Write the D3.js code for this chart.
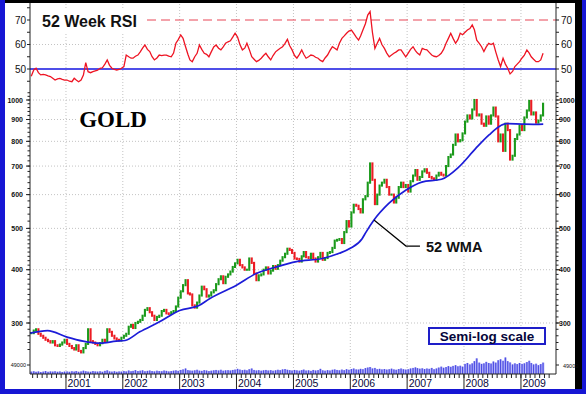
<!DOCTYPE html>
<html>
<head>
<meta charset="utf-8">
<script src="https://cdnjs.cloudflare.com/ajax/libs/d3/7.8.5/d3.min.js"></script>
<style>
  body { margin: 0; background: #fff; }
  svg { display: block; font-family: 'Liberation Sans', Arial, sans-serif; }
</style>
</head>
<body>
<div id="goldChart"></div>
<script>
// gold closes, read twice a month (first half / second half of each month)
// 2000 starts with the second half of May
var close2000 = [284, 288, 290, 283, 280, 277, 274, 272, 270, 272, 266, 265, 267, 270, 274]
var close2001 = [268, 265, 262, 260, 266, 258, 256, 262, 268, 290, 272, 270, 268, 266, 269, 274, 272, 290, 286, 280, 276, 274, 273, 277]
var close2002 = [280, 283, 294, 297, 292, 300, 302, 305, 312, 322, 325, 318, 312, 305, 310, 312, 320, 322, 316, 315, 318, 320, 328, 344]
var close2003 = [356, 368, 378, 352, 350, 330, 326, 335, 348, 365, 360, 346, 348, 354, 358, 370, 380, 386, 372, 385, 390, 396, 406, 414]
var close2004 = [422, 410, 405, 400, 400, 425, 415, 392, 378, 388, 390, 400, 405, 392, 398, 408, 402, 410, 420, 428, 436, 448, 445, 438]
var close2005 = [425, 424, 418, 430, 440, 428, 426, 436, 425, 418, 428, 438, 422, 426, 438, 440, 450, 468, 470, 472, 462, 490, 520, 505]
var close2006 = [545, 568, 565, 555, 545, 585, 595, 640, 710, 650, 570, 600, 630, 640, 650, 625, 600, 600, 575, 590, 625, 640, 625, 632]
var close2007 = [610, 645, 665, 685, 650, 660, 680, 688, 675, 660, 655, 650, 665, 675, 668, 665, 700, 735, 745, 785, 830, 800, 805, 835]
var close2008 = [890, 920, 905, 950, 1000, 920, 925, 880, 870, 915, 880, 920, 960, 915, 800, 830, 760, 880, 850, 725, 740, 810, 830, 870]
var close2009 = [850, 910, 945, 995, 925, 935, 885, 895, 920, 980]

// 52 week RSI, same dates
var rsi2000 = [47.0, 49.6, 50.3, 48.5, 47.6, 47.8, 47.6, 47.2, 46.9, 46.2, 45.5, 46.0, 46.2, 45.8, 45.5]
var rsi2001 = [45.5, 45.0, 44.8, 46.2, 45.5, 44.8, 45.5, 47.5, 52.6, 48.9, 48.5, 48.9, 49.2, 49.5, 50.3, 50.5, 52.0, 53.7, 51.5, 50.3, 49.8, 49.6, 49.8, 50.3]
var rsi2002 = [51.0, 55.7, 55.0, 54.4, 54.4, 55.2, 55.7, 57.0, 58.5, 59.8, 58.0, 57.1, 55.0, 53.7, 54.5, 55.7, 55.5, 55.7, 55.7, 55.3, 55.0, 56.5, 60.5, 62.0]
var rsi2003 = [63.9, 62.5, 59.1, 56.0, 53.7, 53.0, 55.0, 56.4, 59.8, 58.0, 56.4, 56.0, 55.0, 57.0, 59.0, 59.8, 58.5, 57.8, 59.0, 60.5, 61.1, 61.5, 63.0, 64.6]
var rsi2004 = [63.0, 60.0, 57.8, 58.5, 60.5, 58.0, 55.0, 54.0, 53.0, 53.5, 54.4, 55.5, 56.4, 55.0, 53.7, 55.5, 57.0, 57.8, 58.5, 59.1, 60.5, 62.1, 59.5, 57.8]
var rsi2005 = [55.5, 54.4, 56.0, 57.8, 56.0, 54.4, 55.0, 55.7, 55.5, 54.8, 54.4, 53.5, 53.0, 54.5, 55.7, 57.5, 59.1, 58.5, 57.8, 60.5, 62.5, 63.5, 64.6, 65.5]
var rsi2006 = [65.9, 64.5, 63.0, 61.8, 63.5, 65.9, 68.5, 72.0, 73.4, 65.0, 58.4, 60.5, 62.5, 60.0, 58.4, 56.5, 55.0, 55.7, 56.4, 57.0, 57.8, 57.8, 56.4, 55.0]
var rsi2007 = [56.5, 58.0, 59.1, 57.5, 56.5, 55.7, 58.4, 58.0, 57.8, 56.8, 55.7, 55.2, 55.0, 55.5, 56.4, 58.0, 60.5, 62.5, 64.6, 62.5, 60.5, 62.0, 64.6, 64.0]
var rsi2008 = [65.0, 65.9, 66.5, 68.0, 66.0, 61.8, 60.5, 59.1, 57.1, 59.0, 60.5, 60.0, 60.5, 57.0, 53.7, 51.0, 54.4, 52.0, 50.3, 48.0, 49.0, 51.0, 52.0, 53.0]
var rsi2009 = [54.5, 55.7, 57.8, 56.5, 55.0, 54.0, 53.0, 53.0, 53.7, 56.4]

// volume, same dates
var vol2000 = [13000, 15000, 12000, 14000, 11000, 13000, 16000, 12000, 14000, 13000, 15000, 12000, 14000, 11000, 13000]
var vol2001 = [14000, 12000, 15000, 13000, 16000, 12000, 14000, 18000, 15000, 13000, 12000, 16000, 14000, 13000, 15000, 12000, 17000, 20000, 14000, 13000, 15000, 12000, 14000, 13000]
var vol2002 = [16000, 14000, 19000, 15000, 17000, 21000, 16000, 18000, 20000, 15000, 17000, 19000, 16000, 14000, 18000, 16000, 15000, 19000, 17000, 14000, 16000, 18000, 20000, 17000]
var vol2003 = [22000, 25000, 30000, 21000, 19000, 18000, 20000, 23000, 18000, 17000, 21000, 19000, 16000, 18000, 20000, 22000, 19000, 23000, 18000, 20000, 21000, 19000, 22000, 24000]
var vol2004 = [28000, 24000, 21000, 23000, 20000, 26000, 30000, 22000, 19000, 21000, 18000, 20000, 22000, 19000, 21000, 18000, 20000, 23000, 21000, 25000, 27000, 23000, 21000, 19000]
var vol2005 = [22000, 20000, 18000, 21000, 24000, 19000, 20000, 17000, 22000, 19000, 21000, 28000, 20000, 18000, 21000, 19000, 23000, 25000, 22000, 20000, 24000, 21000, 26000, 23000]
var vol2006 = [27000, 30000, 25000, 24000, 28000, 26000, 32000, 35000, 38000, 30000, 33000, 26000, 28000, 25000, 27000, 24000, 26000, 29000, 25000, 23000, 27000, 30000, 26000, 24000]
var vol2007 = [26000, 30000, 33000, 36000, 32000, 29000, 31000, 27000, 30000, 28000, 33000, 26000, 30000, 35000, 40000, 34000, 38000, 43000, 39000, 44000, 48000, 42000, 45000, 40000]
var vol2008 = [55000, 60000, 52000, 58000, 70000, 85000, 62000, 55000, 58000, 66000, 60000, 57000, 68000, 62000, 75000, 80000, 72000, 90000, 70000, 63000, 52000, 58000, 54000, 60000]
var vol2009 = [55000, 58000, 65000, 72000, 60000, 52000, 56000, 48000, 54000, 62000]

// 52 week weighted moving average
var wmaDates = ['2000-05-15', '2000-09-05', '2001-01-08', '2001-04-20', '2001-08-08', '2001-11-20', '2002-01-15', '2002-04-20',
  '2002-08-25', '2003-01-01', '2003-05-08', '2003-07-12', '2004-01-01', '2004-05-08', '2004-09-12', '2005-01-20', '2005-07-05',
  '2005-10-22', '2006-01-01', '2006-03-18', '2006-04-12', '2006-06-02', '2006-09-05', '2006-12-25', '2007-04-05', '2007-08-10',
  '2007-11-28', '2008-03-18', '2008-06-10', '2008-08-12', '2008-10-01', '2009-01-08', '2009-04-05', '2009-05-24']
var wmaValues = [284, 288, 278, 272, 269, 272, 273, 286, 302, 321, 330, 342, 368, 392, 406, 418, 425,
  437, 449, 473, 490, 523, 572, 615, 642, 652, 696, 771, 828, 866, 880, 878, 877, 878]

var years = [2000, 2001, 2002, 2003, 2004, 2005, 2006, 2007, 2008, 2009]
var yearTicks = [2001, 2002, 2003, 2004, 2005, 2006, 2007, 2008, 2009]
var priceTicks = [300, 400, 500, 600, 700, 800, 900, 1000]
var rsiTicks = [50, 60, 70]
var volTick = 49000

var closes = [close2000, close2001, close2002, close2003, close2004, close2005, close2006, close2007, close2008, close2009]
var rsis = [rsi2000, rsi2001, rsi2002, rsi2003, rsi2004, rsi2005, rsi2006, rsi2007, rsi2008, rsi2009]
var vols = [vol2000, vol2001, vol2002, vol2003, vol2004, vol2005, vol2006, vol2007, vol2008, vol2009]

var points = []
years.forEach(function (yr, k) {
  var first = yr === 2000 ? 9 : 0
  closes[k].forEach(function (c, j) {
    var h = first + j
    var prev = points.length ? points[points.length - 1].close : c
    points.push({
      date: new Date(yr, Math.floor(h / 2), h % 2 ? 23 : 8),
      open: prev,
      close: c,
      rsi: rsis[k][j],
      vol: vols[k][j]
    })
  })
})
var parseDay = d3.timeParse('%Y-%m-%d')
var wma = wmaDates.map(function (d, i) { return {date: parseDay(d), value: wmaValues[i]} })

var width = 586
var height = 394
var left = 30
var right = 556
var axisY = 374

var svg = d3.select('#goldChart').append('svg')
  .attr('width', width)
  .attr('height', height)

// frame
svg.append('rect').attr('width', width).attr('height', height).attr('fill', '#1616d4')
svg.append('rect').attr('x', 5).attr('y', 0).attr('width', 577).attr('height', 389).attr('fill', '#000')
svg.append('rect').attr('x', 5).attr('y', 3).attr('width', 570).attr('height', 386).attr('fill', '#fff')

var x = d3.scaleTime().domain([new Date(2000, 4, 15), new Date(2009, 7, 14)]).range([left, right])
var y = d3.scaleLog().domain([300, 1000]).range([323, 100])
var yRsi = d3.scaleLinear().domain([50, 70]).range([69, 20])
var yVol = d3.scaleLinear().domain([0, volTick]).range([axisY, 365])

// grid
var grid = svg.append('g')
  .attr('stroke', '#b4b4b4')
  .attr('stroke-width', 0.8)
  .attr('stroke-dasharray', '1,2')
grid.selectAll('.vg').data(yearTicks).enter().append('line')
  .attr('x1', function (d) { return x(new Date(d, 0, 1)) })
  .attr('x2', function (d) { return x(new Date(d, 0, 1)) })
  .attr('y1', 4)
  .attr('y2', axisY)
grid.selectAll('.hg').data(priceTicks).enter().append('line')
  .attr('x1', left)
  .attr('x2', right)
  .attr('y1', function (d) { return y(d) })
  .attr('y2', function (d) { return y(d) })
grid.append('line')
  .attr('x1', left).attr('x2', right)
  .attr('y1', yRsi(60)).attr('y2', yRsi(60))

// labels with white backing
function whiteBox (x0, y0, w, h) {
  svg.append('rect').attr('x', x0).attr('y', y0).attr('width', w).attr('height', h).attr('fill', '#fff')
}
whiteBox(38, 8, 106, 24)
svg.append('text')
  .attr('x', 42).attr('y', 27)
  .attr('style', 'font-size: 16px; font-weight: bold')
  .attr('fill', '#111')
  .text('52 Week RSI')

whiteBox(77, 104, 84, 29)
svg.append('text')
  .attr('x', 113).attr('y', 127)
  .attr('text-anchor', 'middle')
  .attr('style', "font: bold 23px 'Liberation Serif', 'Times New Roman', serif")
  .attr('fill', '#000')
  .text('GOLD')

// RSI reference lines
svg.append('line')
  .attr('x1', 147).attr('x2', right)
  .attr('y1', yRsi(70)).attr('y2', yRsi(70))
  .attr('stroke', '#e84657')
  .attr('stroke-width', 1)
  .attr('stroke-dasharray', '9,5')
svg.append('line')
  .attr('x1', left).attr('x2', right)
  .attr('y1', yRsi(50)).attr('y2', yRsi(50))
  .attr('stroke', '#1414e0')
  .attr('stroke-width', 1.5)

var rsiLine = d3.line()
  .x(function (d) { return x(d.date) })
  .y(function (d) { return yRsi(d.rsi) })
svg.append('path')
  .datum(points)
  .attr('d', rsiLine)
  .attr('fill', 'none')
  .attr('stroke', '#ee1423')
  .attr('stroke-width', 1.3)

// volume
var volGroup = svg.append('g')
volGroup.selectAll('rect').data(points).enter().append('rect')
  .attr('x', function (d) { return x(d.date) - 1.2 })
  .attr('y', function (d) { return yVol(d.vol) })
  .attr('width', 2.4)
  .attr('height', function (d) { return axisY - yVol(d.vol) })
  .attr('fill', '#a2a2f6')
volGroup.selectAll('line').data(points).enter().append('line')
  .attr('x1', function (d) { return x(d.date) })
  .attr('x2', function (d) { return x(d.date) })
  .attr('y1', function (d) { return yVol(d.vol) })
  .attr('y2', axisY)
  .attr('stroke', '#3030dc')
  .attr('stroke-width', 0.8)

// price bars
svg.append('g').selectAll('line').data(points).enter().append('line')
  .attr('x1', function (d) { return x(d.date) })
  .attr('x2', function (d) { return x(d.date) })
  .attr('y1', function (d) { return y(d.open) })
  .attr('y2', function (d) { return y(d.close) })
  .attr('stroke', function (d) { return d.close >= d.open ? '#1b9a1b' : '#ec1c24' })
  .attr('stroke-width', 2.1)
  .attr('stroke-linecap', 'square')

// 52 WMA
var wmaLine = d3.line()
  .x(function (d) { return x(d.date) })
  .y(function (d) { return y(d.value) })
  .curve(d3.curveMonotoneX)
svg.append('path')
  .datum(wma)
  .attr('d', wmaLine)
  .attr('fill', 'none')
  .attr('stroke', '#1c1cd8')
  .attr('stroke-width', 1.7)

// 52 WMA callout
var anchor = wma[21]
var ax = x(anchor.date)
var ay = y(anchor.value)
svg.append('polyline')
  .attr('points', [[ax, ay], [ax + 32, ay + 26], [ax + 46, ay + 26]].join(' '))
  .attr('fill', 'none')
  .attr('stroke', '#000')
  .attr('stroke-width', 1.2)
whiteBox(ax + 50, ay + 18, 60, 18)
svg.append('text')
  .attr('x', ax + 52).attr('y', ay + 32)
  .attr('style', 'font-size: 14.5px; font-weight: bold')
  .attr('fill', '#111')
  .text('52 WMA')

// semi-log box
svg.append('rect')
  .attr('x', 429).attr('y', 328)
  .attr('width', 116).attr('height', 16)
  .attr('fill', '#fff')
  .attr('stroke', '#1e1ec8')
  .attr('stroke-width', 2)
svg.append('text')
  .attr('x', 487).attr('y', 341)
  .attr('text-anchor', 'middle')
  .attr('style', 'font-size: 13.5px; font-weight: bold')
  .attr('fill', '#05053a')
  .text('Semi-log scale')

// axes
var axes = svg.append('g').attr('stroke', '#222').attr('stroke-width', 1)
axes.append('line').attr('x1', left).attr('x2', left).attr('y1', 3).attr('y2', axisY)
axes.append('line').attr('x1', right).attr('x2', right).attr('y1', 3).attr('y2', axisY)
axes.append('line').attr('x1', left).attr('x2', right).attr('y1', axisY).attr('y2', axisY)

var minorPrice = d3.range(260, 500, 10).concat(d3.range(500, 1041, 20))
var rsiMinor = [45, 50, 55, 60, 65, 70, 75]
function sideTicks (vals, scale, len) {
  vals.forEach(function (v) {
    var yy = scale(v)
    axes.append('line').attr('x1', left - len).attr('x2', left).attr('y1', yy).attr('y2', yy)
    axes.append('line').attr('x1', right).attr('x2', right + len).attr('y1', yy).attr('y2', yy)
  })
}
sideTicks(minorPrice, y, 2.5)
sideTicks(priceTicks, y, 4)
sideTicks(rsiMinor, yRsi, 3)
sideTicks([volTick], yVol, 3)

var labels = svg.append('g').attr('fill', '#111')
priceTicks.forEach(function (v) {
  labels.append('text').attr('x', 23).attr('y', y(v) + 2.5).attr('text-anchor', 'end')
    .attr('style', 'font-size: 7px; font-weight: bold').text(v)
  labels.append('text').attr('x', 559).attr('y', y(v) + 2.5)
    .attr('style', 'font-size: 7px; font-weight: bold').text(v)
})
rsiTicks.forEach(function (v) {
  labels.append('text').attr('x', 26).attr('y', yRsi(v) + 3.5).attr('text-anchor', 'end')
    .attr('style', 'font-size: 10px').text(v)
  labels.append('text').attr('x', 561).attr('y', yRsi(v) + 3.5)
    .attr('style', 'font-size: 10px').text(v)
})
labels.append('text').attr('x', 26).attr('y', yVol(volTick) + 2).attr('text-anchor', 'end')
  .attr('style', 'font-size: 5.5px').text(volTick)
labels.append('text').attr('x', 563).attr('y', yVol(volTick) + 3)
  .attr('style', 'font-size: 5.5px').text(volTick)

// time axis
var months = d3.timeMonth.range(new Date(2000, 5, 1), new Date(2009, 7, 1))
axes.selectAll('.mt').data(months).enter().append('line')
  .attr('x1', function (d) { return x(d) })
  .attr('x2', function (d) { return x(d) })
  .attr('y1', axisY)
  .attr('y2', axisY + 4)
axes.selectAll('.yt').data(yearTicks).enter().append('line')
  .attr('x1', function (d) { return x(new Date(d, 0, 1)) })
  .attr('x2', function (d) { return x(new Date(d, 0, 1)) })
  .attr('y1', axisY)
  .attr('y2', 389)
labels.selectAll('.yl').data(yearTicks).enter().append('text')
  .attr('x', function (d) { return x(new Date(d, 0, 1)) + 1.5 })
  .attr('y', 387)
  .attr('fill', '#0a0a3c')
  .attr('style', 'font-size: 10.5px')
  .text(function (d) { return d })
</script>
</body>
</html>
